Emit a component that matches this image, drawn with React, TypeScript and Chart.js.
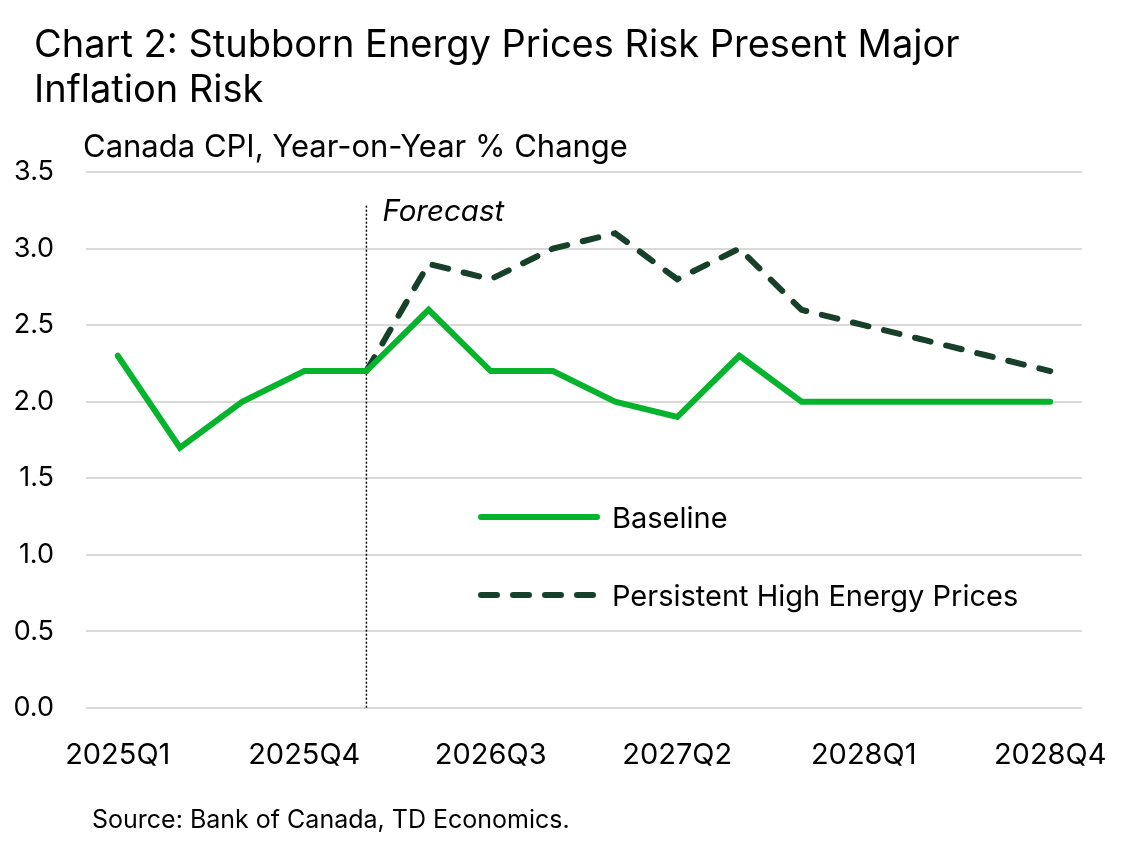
import { useEffect, useRef } from "react"
import { Chart, registerables } from "chart.js"

Chart.register(...registerables)

const quarters = [
  "2025Q1", "2025Q2", "2025Q3", "2025Q4",
  "2026Q1", "2026Q2", "2026Q3", "2026Q4",
  "2027Q1", "2027Q2", "2027Q3", "2027Q4",
  "2028Q1", "2028Q2", "2028Q3", "2028Q4",
]
const baseline = [2.3, 1.7, 2.0, 2.2, 2.2, 2.6, 2.2, 2.2, 2.0, 1.9, 2.3, 2.0, 2.0, 2.0, 2.0, 2.0]
const highEnergy = [null, null, null, null, 2.2, 2.9, 2.8, 3.0, 3.1, 2.8, 3.0, 2.6, 2.5, 2.4, 2.3, 2.2]
const yTicks = [0, 0.5, 1.0, 1.5, 2.0, 2.5, 3.0, 3.5]
const xTickIndex = [0, 3, 6, 9, 12, 15]
const forecastStart = 4

const FONT = "Inter"
const GREEN = "#05b42c"
const DARK = "#17402a"

const toPoints = (arr: (number | null)[]) =>
  arr.map((v, i) => ({ x: i, y: v })).filter((p) => p.y !== null)

const textPlugin = {
  id: "textPlugin",
  beforeDatasetsDraw(chart: any) {
    const { ctx, scales } = chart
    const x = scales.x.getPixelForValue(forecastStart)
    ctx.save()
    ctx.strokeStyle = "#000"
    ctx.lineWidth = 1.5
    ctx.setLineDash([2, 2])
    ctx.beginPath()
    ctx.moveTo(x, scales.y.getPixelForValue(3.28))
    ctx.lineTo(x, scales.y.getPixelForValue(0))
    ctx.stroke()
    ctx.restore()
  },
  afterDraw(chart: any) {
    const { ctx, scales } = chart
    ctx.save()
    ctx.fillStyle = "#000"
    ctx.textBaseline = "alphabetic"
    ctx.textAlign = "left"

    ctx.font = `400 38px ${FONT}`
    ctx.fillText("Chart 2: Stubborn Energy Prices Risk Present Major", 34, 57)
    ctx.fillText("Inflation Risk", 34, 102)

    ctx.font = `400 31px ${FONT}`
    ctx.fillText("Canada CPI, Year-on-Year % Change", 83, 157)

    ctx.font = `italic 400 29.5px ${FONT}`
    ctx.fillText("Forecast", scales.x.getPixelForValue(forecastStart) + 16, 221)

    ctx.font = `400 25px ${FONT}`
    ctx.fillText("Source: Bank of Canada, TD Economics.", 92, 828)

    // legend
    ctx.lineCap = "round"
    ctx.lineWidth = 6
    ctx.strokeStyle = GREEN
    ctx.beginPath()
    ctx.moveTo(481, 517)
    ctx.lineTo(597, 517)
    ctx.stroke()

    ctx.strokeStyle = DARK
    ctx.setLineDash([16, 16])
    ctx.beginPath()
    ctx.moveTo(481, 595)
    ctx.lineTo(597, 595)
    ctx.stroke()
    ctx.setLineDash([])

    ctx.font = `400 29px ${FONT}`
    ctx.fillText("Baseline", 612, 528)
    ctx.fillText("Persistent High Energy Prices", 612, 606)
    ctx.restore()
  },
}

export default function App() {
  const chartRef = useRef<HTMLCanvasElement>(null)
  const chartInstance = useRef<Chart | null>(null)

  useEffect(() => {
    document.body.style.margin = "0"
    if (!chartRef.current) return
    if (chartInstance.current) chartInstance.current.destroy()
    const ctx = chartRef.current.getContext("2d")
    if (!ctx) return

    chartInstance.current = new Chart(ctx, {
      type: "line",
      data: {
        datasets: [
          {
            label: "Baseline",
            data: toPoints(baseline) as any,
            borderColor: GREEN,
            borderWidth: 6,
            pointRadius: 0,
            borderCapStyle: "round",
          },
          {
            label: "Persistent High Energy Prices",
            data: toPoints(highEnergy) as any,
            borderColor: DARK,
            borderWidth: 6,
            pointRadius: 0,
            borderDash: [16, 16],
            borderCapStyle: "round",
          },
        ],
      },
      options: {
        responsive: false,
        animation: false,
        layout: { padding: { top: 172, left: 0, right: 49, bottom: 62 } },
        plugins: {
          legend: { display: false },
          tooltip: { enabled: false },
        },
        scales: {
          x: {
            type: "linear",
            min: -0.511,
            max: 15.51,
            afterBuildTicks: (scale: any) => {
              scale.ticks = xTickIndex.map((v) => ({ value: v }))
            },
            afterFit: (scale: any) => {
              scale.height = 80
            },
            grid: { display: false, drawTicks: false },
            border: { display: false },
            ticks: {
              autoSkip: false,
              maxRotation: 0,
              padding: 30,
              color: "#000",
              font: { family: FONT, size: 29 },
              callback: (v: any) => quarters[v as number] ?? "",
            },
          },
          y: {
            min: 0,
            max: 3.5,
            afterBuildTicks: (scale: any) => {
              scale.ticks = yTicks.map((v) => ({ value: v }))
            },
            afterFit: (scale: any) => {
              scale.width = 86
            },
            grid: { color: "#d9d9d9", lineWidth: 2, drawTicks: false },
            border: { display: false },
            ticks: {
              padding: 32,
              color: "#000",
              font: { family: FONT, size: 27 },
              callback: (v: any) => Number(v).toFixed(1),
            },
          },
        },
      },
      plugins: [textPlugin],
    })

    return () => {
      if (chartInstance.current) {
        chartInstance.current.destroy()
        chartInstance.current = null
      }
    }
  }, [])

  return (
    <div style={{ width: 1138, height: 850, background: "#fff" }}>
      <canvas ref={chartRef} width={1138} height={850} />
    </div>
  )
}
